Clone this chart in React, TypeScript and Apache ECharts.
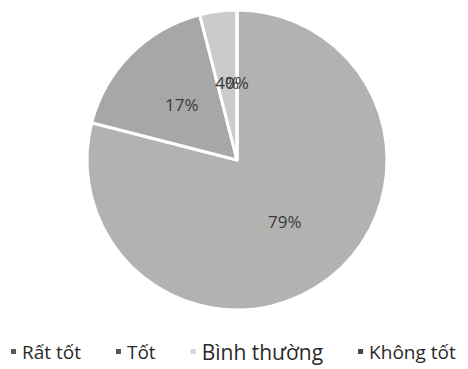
import React, { useEffect, useRef } from "react";
import * as echarts from "echarts";

const categories = ["Rất tốt", "Tốt", "Bình thường", "Không tốt"];
const values = [79, 17, 4, 0];
const sliceColors = ["#b2b3b1", "#a7a8a6", "#cbcbcb", "#8a8a8a"];
const legendColors = ["#5a5a5a", "#555555", "#d4d4d4", "#444444"];
const legendFontSizes = [19, 19, 21, 19];

export default function App() {
  const ref = useRef<HTMLDivElement>(null);
  useEffect(() => {
    const chart = echarts.init(ref.current!, null, { renderer: "svg" });
    chart.setOption({
      animation: false,
      backgroundColor: "#ffffff",
      legend: {
        left: 9,
        top: 341,
        width: 470,
        padding: 0,
        icon: "rect",
        itemWidth: 7,
        itemHeight: 7,
        itemGap: 33,
        textStyle: { fontFamily: "Open Sans", color: "#2a2a2a", fontSize: 19 },
        data: categories.map((c, i) => ({
          name: c,
          itemStyle: { color: legendColors[i] },
          textStyle: { fontSize: legendFontSizes[i] },
        })),
      },
      series: [
        {
          type: "pie",
          center: [237, 160],
          radius: [0, 150],
          startAngle: 90,
          clockwise: true,
          avoidLabelOverlap: false,
          stillShowZeroSum: true,
          labelLayout: { hideOverlap: false },
          itemStyle: { borderColor: "#ffffff", borderWidth: 3 },
          label: {
            show: true,
            position: "inside",
            formatter: "{d}%",
            fontFamily: "Open Sans",
            fontSize: 17,
            color: "#3a3a3a",
          },
          labelLine: { show: false },
          data: categories.map((c, i) => ({
            name: c,
            value: values[i],
            itemStyle: { color: sliceColors[i] },
          })),
        },
      ],
    });
    return () => chart.dispose();
  }, []);
  return (
    <div
      ref={ref}
      style={{ position: "fixed", left: 0, top: 0, width: 468, height: 369 }}
    />
  );
}
